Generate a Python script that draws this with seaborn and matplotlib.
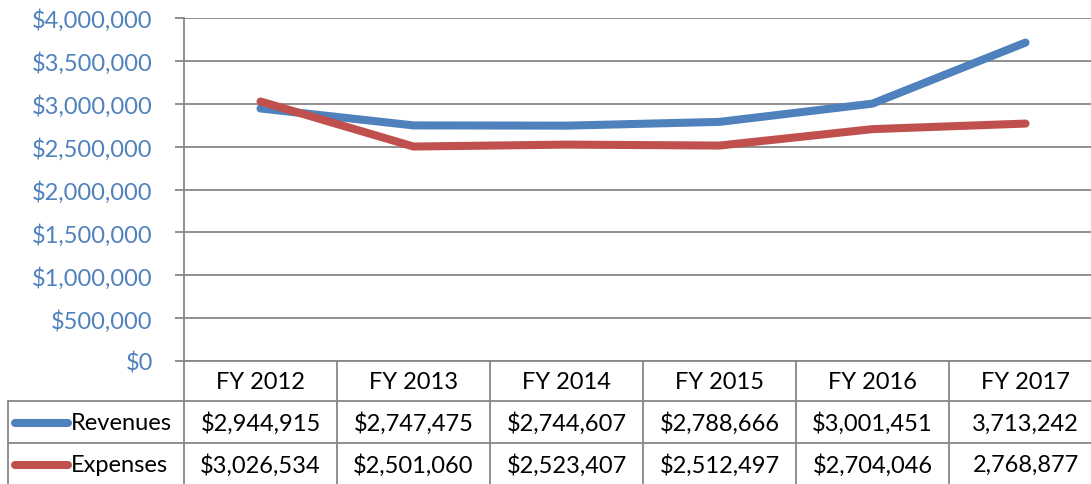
import numpy as np
import pandas as pd
import matplotlib
matplotlib.use("Agg")
import matplotlib.pyplot as plt
import matplotlib.transforms as mtransforms
import seaborn as sns

# data
years = ["FY 2012", "FY 2013", "FY 2014", "FY 2015", "FY 2016", "FY 2017"]
revenues = [2944915, 2747475, 2744607, 2788666, 3001451, 3713242]
expenses = [3026534, 2501060, 2523407, 2512497, 2704046, 2768877]
series_names = ["Revenues", "Expenses"]
series_colors = ["#4F81BD", "#C0504D"]
# the last column in the table is printed without a dollar sign
dollar_sign = [True, True, True, True, True, False]
yticks = [0, 500000, 1000000, 1500000, 2000000, 2500000, 3000000, 3500000, 4000000]

sns.set_style("white")
plt.rcParams["font.family"] = ["Lato", "DejaVu Sans"]

W, H = 1091, 485
fig = plt.figure(figsize=(W / 100, H / 100), dpi=100)

grid_col = "#878787"
fs = 17

# plot area in pixels: left 184, top 19, bottom 362, each category 153 px wide
col_w = 153
left, top, bottom = 184, 19, 362
ax = fig.add_axes([left / W, (H - bottom) / H, col_w * len(years) / W, (bottom - top) / H])

df = pd.DataFrame({
    "year": years * 2,
    "x": list(range(len(years))) * 2,
    "value": revenues + expenses,
    "series": [series_names[0]] * len(years) + [series_names[1]] * len(years),
})

sns.lineplot(data=df, x="x", y="value", hue="series", palette=series_colors,
             linewidth=5.8, ax=ax, legend=False, sort=False)
for ln in ax.get_lines():
    ln.set_solid_capstyle("round")
    ln.set_solid_joinstyle("round")

ax.set_xlim(-0.5, len(years) - 0.5)
ax.set_ylim(0, 4000000)
ax.set_yticks(yticks)
ax.set_yticklabels(["${:,}".format(v) for v in yticks])
ax.set_xticks([])
ax.set_xlabel("")
ax.set_ylabel("")
ax.grid(axis="y", color=grid_col, linewidth=1.3)
ax.set_axisbelow(True)
for s in ["top", "right", "bottom"]:
    ax.spines[s].set_visible(False)
ax.spines["left"].set_color(grid_col)
ax.spines["left"].set_linewidth(1.3)
ax.tick_params(axis="y", colors=grid_col, length=6.5, width=1.3, pad=16,
               labelsize=fs, labelcolor="#4F81BD", left=True)

# data table below the plot, drawn in pixel coordinates
tab = fig.add_axes([0, 0, 1, 1], facecolor="none")
tab.set_xlim(0, W)
tab.set_ylim(H, 0)
tab.axis("off")
# x from the plot's category scale, y in pixels
tr = mtransforms.blended_transform_factory(ax.transData, tab.transData)

row_top = [362, 402, 444]
row_bot = [402, 444, 485]
lw = 1.3
# horizontal borders
tab.plot([left, W], [row_top[0], row_top[0]], color=grid_col, lw=lw)
for y in row_top[1:]:
    tab.plot([8, W], [y, y], color=grid_col, lw=lw)
# vertical borders
tab.plot([left, left], [row_top[0], H], color=grid_col, lw=lw)
tab.plot([8, 8], [row_top[1], H], color=grid_col, lw=lw)
for i in range(1, len(years) + 1):
    tab.plot([i - 0.5, i - 0.5], [row_top[0], H], color=grid_col, lw=lw, transform=tr)

# header row
for i, yr in enumerate(years):
    tab.text(i, (row_top[0] + row_bot[0]) / 2 + 1, yr, transform=tr,
             ha="center", va="center", fontsize=fs, color="black")

# series rows with legend keys
for r, (name, vals, c) in enumerate(zip(series_names, [revenues, expenses], series_colors)):
    yc = (row_top[r + 1] + row_bot[r + 1]) / 2 + 1
    tab.plot([15, 68], [yc, yc], color=c, lw=5.8, solid_capstyle="round")
    tab.text(71, yc, name, ha="left", va="center", fontsize=fs, color="black")
    for i, v in enumerate(vals):
        s = "${:,}".format(v) if dollar_sign[i] else "{:,}".format(v)
        tab.text(i, yc, s, transform=tr, ha="center", va="center",
                 fontsize=fs, color="black")

fig.savefig("out.png", dpi=100)
